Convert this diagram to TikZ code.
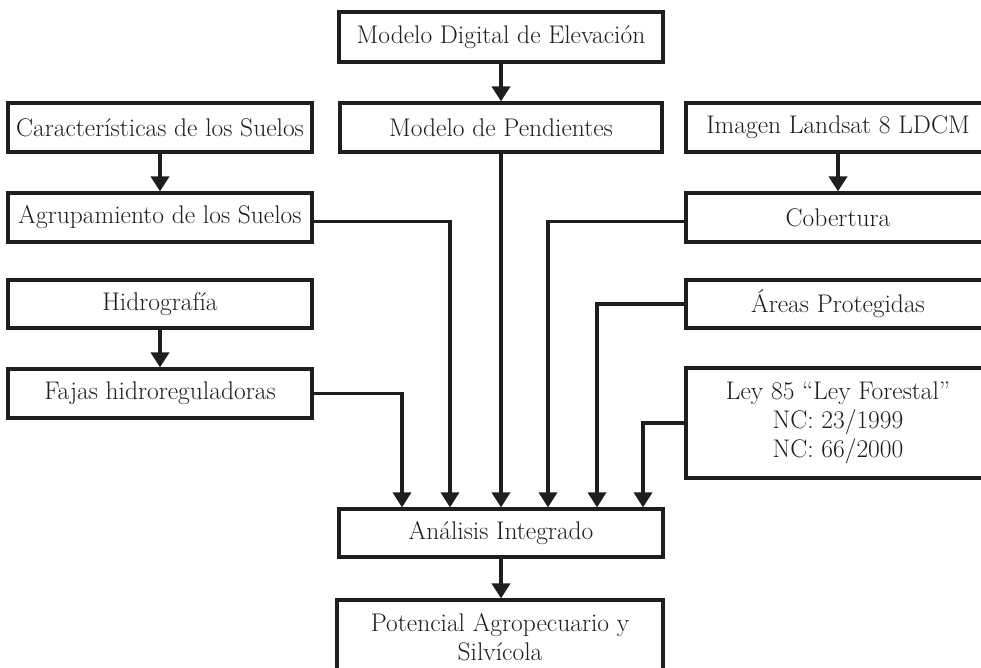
\documentclass[tikz,border=0pt]{standalone}
\usetikzlibrary{arrows.meta}
\definecolor{ink}{HTML}{1E1E1E}
\begin{document}
\begin{tikzpicture}[x=1pt,y=-1pt,
  box/.style={draw=ink,line width=3.2pt,inner sep=0pt,minimum width=#1,minimum height=49pt,
    font=\fontsize{25.5}{29}\selectfont,text=ink,align=center},
  box/.default=304pt,
  arr/.style={draw=ink,line width=4pt,-{Triangle[width=18pt,length=15pt]}},
  arrc/.style={draw=ink,line width=3.4pt,-{Triangle[width=18pt,length=15pt]}}]
\clip (0,0) rectangle (981,667);
\fill[white] (0,0) rectangle (981,667);
% nodes
\node[box=324pt,minimum height=50pt] (mde) at (501,37) {Modelo Digital de Elevación};
\node[box=322pt] (pend) at (501,127.5) {Modelo de Pendientes};
\node[box] (car) at (160,127.5) {Características de los Suelos};
\node[box] (agr) at (160,217.5) {Agrupamiento de los Suelos};
\node[box] (img) at (838,127.5) {Imagen Landsat 8 LDCM};
\node[box] (cob) at (838,217.5) {Cobertura};
\node[box,minimum height=48pt] (hid) at (160,304) {Hidrografía};
\node[box] (faj) at (160,393.5) {Fajas hidroreguladoras};
\node[box,minimum height=48pt] (are) at (838,304) {Áreas Protegidas};
\node[box,minimum height=110pt] (ley) at (838,423) {Ley 85 “Ley Forestal”\\NC: 23/1999\\NC: 66/2000};
\node[box=324pt,minimum height=48pt] (ana) at (501,533) {Análisis Integrado};
\node[box=326pt,minimum height=74pt] (pot) at (500,637) {Potencial Agropecuario y\\Silvícola};
% connectors
\draw[arr] (mde.south) -- (pend.north);
\draw[arr] (car.south) -- (agr.north);
\draw[arr] (hid.south) -- (faj.north);
\draw[arr] (img.south) -- (cob.north);
\draw[arr] (ana.south) -- (ana.south |- pot.north);
\draw[arr] (pend.south) -- (pend.south |- ana.north);
\draw[arrc] (faj.east) -| ([xshift=-99pt]ana.north);
\draw[arrc] ([yshift=-4pt]agr.east) -| ([xshift=-51pt]ana.north);
\draw[arrc] ([yshift=-4pt]cob.west) -| ([xshift=47pt]ana.north);
\draw[arrc] (are.west) -| ([xshift=96pt]ana.north);
\draw[arrc] (ley.west) -| ([xshift=142pt]ana.north);
\end{tikzpicture}
\end{document}
